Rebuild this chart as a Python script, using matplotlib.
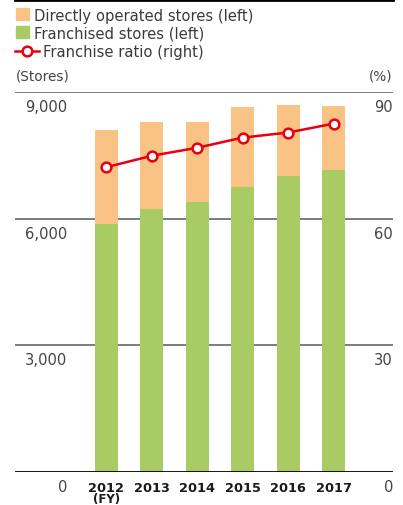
import matplotlib
matplotlib.use("Agg")
import matplotlib.pyplot as plt
from matplotlib.lines import Line2D
from matplotlib.patches import Rectangle
import matplotlib.transforms as mtransforms

years = ["2012", "2013", "2014", "2015", "2016", "2017"]
franchised = [5875, 6230, 6395, 6750, 7010, 7155]
total = [8100, 8290, 8290, 8645, 8690, 8670]
directly = [t - f for t, f in zip(total, franchised)]
ratio = [72.2, 74.9, 76.8, 79.2, 80.4, 82.5]
left_ticks = [0, 3000, 6000, 9000]
left_labels = ["0", "3,000", "6,000", "9,000"]
right_labels = ["0", "30", "60", "90"]

C_ORANGE = "#F8C385"
C_GREEN = "#A8CB64"
C_RED = "#E60012"
C_TEXT = "#444444"
C_LEG = "#3a3a3a"

plt.rcParams['font.family'] = ['DejaVu Sans']

W, H = 403, 506
fig = plt.figure(figsize=(W / 100, H / 100), dpi=100)

def fx(px):
    return px / W

def fy(py):
    return 1 - py / H

Y0, Y9 = 473, 93
ax = fig.add_axes([fx(15), fy(Y0), fx(393) - fx(15), fy(Y9) - fy(Y0)])
ax2 = ax.twinx()

x = list(range(len(years)))
ax.bar(x, franchised, width=0.507, color=C_GREEN, zorder=2)
ax.bar(x, directly, bottom=franchised, width=0.507, color=C_ORANGE, zorder=2)
ax.set_ylim(0, 9000)
ax.set_xlim(-2.015, 6.31)
ax2.set_ylim(0, 90)
ax2.plot(x, ratio, color=C_RED, lw=1.8, marker='o', ms=7, mfc='white',
         mec=C_RED, mew=1.8, zorder=5, clip_on=False)

for a in (ax, ax2):
    for s in a.spines.values():
        s.set_visible(False)
    a.set_xticks([])
    a.set_yticks([])

for v in [3000, 6000, 9000]:
    ax.axhline(v, color="#666666", lw=1.2, zorder=1)
ax.axhline(0, color="black", lw=2.0, zorder=3)

# y labels below the gridlines (baseline 19 px under each line)
off = mtransforms.ScaledTranslation(0, -19 / 100, fig.dpi_scale_trans)
trL = mtransforms.blended_transform_factory(fig.transFigure, ax.transData) + off
for v, lab, rlab in zip(left_ticks, left_labels, right_labels):
    ax.text(fx(67), v, lab, transform=trL, ha='right', va='baseline',
            fontsize=10.6, color=C_TEXT)
    ax.text(fx(393), v, rlab, transform=trL, ha='right', va='baseline',
            fontsize=10.6, color=C_TEXT)

# x tick labels
trX = mtransforms.blended_transform_factory(ax.transData, fig.transFigure)
for i, y in enumerate(years):
    ax.text(i, fy(492), y, transform=trX, ha='center', va='baseline', fontsize=9.3,
            fontweight='bold', color='#1a1a1a')
ax.text(0, fy(503.5), "(FY)", transform=trX, ha='center', va='baseline', fontsize=8.5,
        fontweight='bold', color='#1a1a1a')

# units
fig.text(fx(16), fy(81), "(Stores)", ha='left', va='baseline', fontsize=9.8, color=C_TEXT)
fig.text(fx(392), fy(81), "(%)", ha='right', va='baseline', fontsize=9.8, color=C_TEXT)

# top black rule
fig.add_artist(Line2D([fx(15), fx(393)], [fy(1.2), fy(1.2)], color='black', lw=2.0,
                      transform=fig.transFigure))

# legend
fig.add_artist(Rectangle((fx(16), fy(20.5)), fx(13), 11.5 / H, color=C_ORANGE,
                         transform=fig.transFigure))
fig.add_artist(Rectangle((fx(16), fy(38.5)), fx(13), 11.5 / H, color=C_GREEN,
                         transform=fig.transFigure))
fig.add_artist(Line2D([fx(15), fx(39)], [fy(51.7), fy(51.7)], color=C_RED, lw=1.8,
                      transform=fig.transFigure))
fig.add_artist(Line2D([fx(27)], [fy(51.7)], color=C_RED, marker='o', ms=7,
                      mfc='white', mec=C_RED, mew=1.8, transform=fig.transFigure))
for px, py, lab in [(34, 20.7, "Directly operated stores (left)"),
                    (34, 38.8, "Franchised stores (left)"),
                    (43.3, 57.0, "Franchise ratio (right)")]:
    fig.text(fx(px), fy(py), lab, ha='left', va='baseline', fontsize=10.6, color=C_LEG)

fig.savefig("out.png", dpi=100)
